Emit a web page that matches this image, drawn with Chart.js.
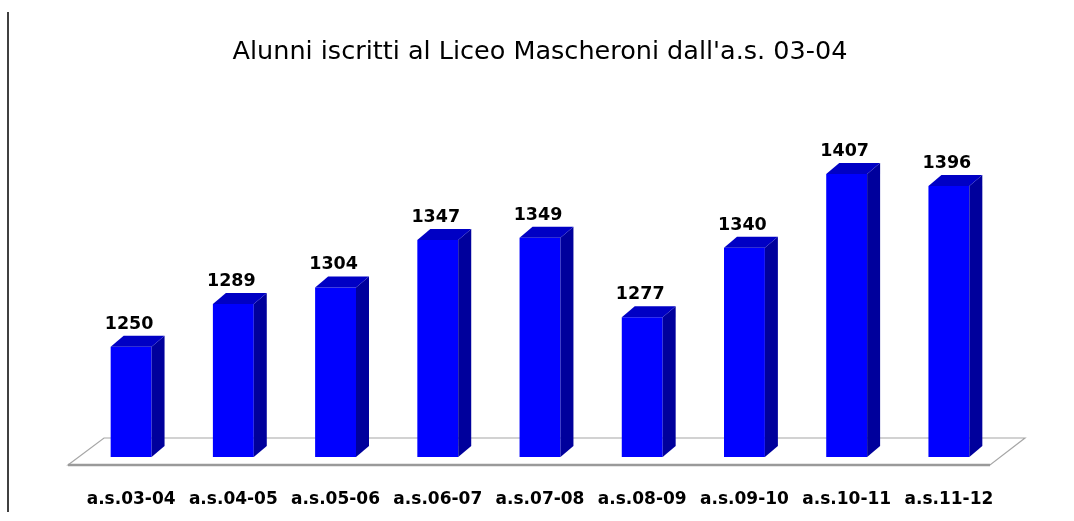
<!DOCTYPE html>
<html>
<head>
<meta charset="utf-8">
<script src="https://cdn.jsdelivr.net/npm/chart.js@4/dist/chart.umd.min.js"></script>
<style>
  html, body { margin: 0; padding: 0; background: #fff; }
  #wrap { width: 1074px; height: 521px; position: relative; }
</style>
</head>
<body>
<div id="wrap"><canvas id="alunni"></canvas></div>
<script>
const anni = ["a.s.03-04", "a.s.04-05", "a.s.05-06", "a.s.06-07", "a.s.07-08",
              "a.s.08-09", "a.s.09-10", "a.s.10-11", "a.s.11-12"];
const iscritti = [1250, 1289, 1304, 1347, 1349, 1277, 1340, 1407, 1396];

const FONT = "'DejaVu Sans', sans-serif";
const DX = 13, DY = 11;

// floor, side faces, tops and value labels (fake 3D look)
const fake3d = {
  id: "fake3d",
  beforeDraw(chart) {
    const ctx = chart.ctx;
    ctx.save();
    ctx.strokeStyle = "#000";
    ctx.lineWidth = 1.5;
    ctx.beginPath();
    ctx.moveTo(8, 12);
    ctx.lineTo(8, 512);
    ctx.stroke();
    ctx.restore();
  },
  beforeDatasetsDraw(chart) {
    const { ctx, chartArea: a } = chart;
    ctx.save();
    ctx.fillStyle = "#ffffff";
    ctx.strokeStyle = "#a6a6a6";
    ctx.lineWidth = 1.2;
    ctx.beginPath();
    ctx.moveTo(a.left - 12, a.bottom + 8);
    ctx.lineTo(a.left + 24, a.bottom - 19);
    ctx.lineTo(a.right + 25, a.bottom - 19);
    ctx.lineTo(a.right - 10, a.bottom + 8);
    ctx.closePath();
    ctx.fill();
    ctx.stroke();
    ctx.strokeStyle = "#9a9a9a";
    ctx.lineWidth = 2.5;
    ctx.beginPath();
    ctx.moveTo(a.left - 12, a.bottom + 8);
    ctx.lineTo(a.right - 10, a.bottom + 8);
    ctx.stroke();
    ctx.restore();
  },
  afterDatasetsDraw(chart) {
    const ctx = chart.ctx;
    const meta = chart.getDatasetMeta(0);
    const b = chart.chartArea.bottom;
    ctx.save();
    meta.data.forEach((bar, i) => {
      const l = bar.x - bar.width / 2, r = bar.x + bar.width / 2;
      const t = bar.y;
      // side
      ctx.fillStyle = "#00009c";
      ctx.beginPath();
      ctx.moveTo(r, t);
      ctx.lineTo(r + DX, t - DY);
      ctx.lineTo(r + DX, b - DY);
      ctx.lineTo(r, b);
      ctx.closePath();
      ctx.fill();
      // top
      ctx.fillStyle = "#0000c4";
      ctx.beginPath();
      ctx.moveTo(l, t);
      ctx.lineTo(l + DX, t - DY);
      ctx.lineTo(r + DX, t - DY);
      ctx.lineTo(r, t);
      ctx.closePath();
      ctx.fill();
      // value
      ctx.fillStyle = "#000";
      ctx.font = "bold 17.5px " + FONT;
      ctx.textAlign = "center";
      ctx.textBaseline = "alphabetic";
      ctx.fillText(String(iscritti[i]), bar.x - 2, t - 18);
    });
    ctx.restore();
  }
};

new Chart(document.getElementById("alunni"), {
  type: "bar",
  data: {
    labels: anni,
    datasets: [{
      label: "Alunni iscritti",
      data: iscritti,
      backgroundColor: "#0000ff",
      borderWidth: 0,
      barPercentage: 0.4,
      categoryPercentage: 1.0
    }]
  },
  options: {
    responsive: true,
    maintainAspectRatio: false,
    devicePixelRatio: 1,
    animation: false,
    layout: { padding: { left: 80, right: 74, top: 0, bottom: 12 } },
    plugins: {
      legend: { display: false },
      tooltip: { enabled: false },
      title: {
        display: true,
        text: "Alunni iscritti al Liceo Mascheroni dall'a.s. 03-04",
        color: "#000",
        font: { family: FONT, size: 25.5, weight: "normal", lineHeight: 1.2 },
        padding: { top: 37, bottom: 59 }
      }
    },
    scales: {
      x: {
        grid: { display: false, drawTicks: false },
        border: { display: false },
        ticks: {
          color: "#000",
          font: { family: FONT, size: 17, weight: "bold", lineHeight: 1.2 },
          padding: 32,
          maxRotation: 0,
          autoSkip: false
        },
        afterFit(scale) { scale.height = 52; }
      },
      y: {
        display: false,
        min: 1150,
        max: 1450
      }
    }
  },
  plugins: [fake3d]
});
</script>
</body>
</html>
